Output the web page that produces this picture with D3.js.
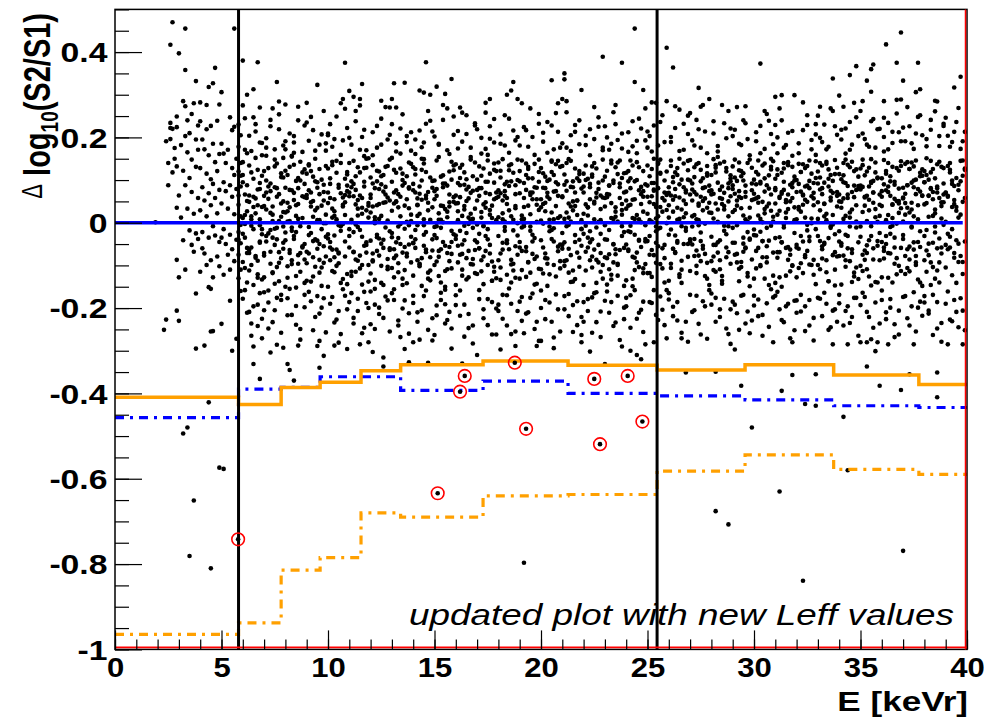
<!DOCTYPE html>
<html>
<head>
<meta charset="utf-8">
<script src="https://cdn.jsdelivr.net/npm/d3@7"></script>
<style>
  html, body { margin: 0; padding: 0; background: #fff; }
  svg { display: block; }
  text { font-family: "Liberation Sans", Arial, Helvetica, sans-serif; }
</style>
</head>
<body>
<svg id="chart" width="984" height="719"></svg>
<script>
// ---------- values ----------
const binEdges     = [0, 5.8, 7.8, 9.63, 11.55, 13.41, 17.28, 21.27, 25.45, 29.58, 33.74, 37.74, 40];
const upperSolid   = [-0.409, -0.426, -0.386, -0.374, -0.347, -0.333, -0.324, -0.334, -0.345, -0.333, -0.357, -0.379];
const blueDashDot  = [-0.457, -0.390, -0.386, -0.361, -0.361, -0.393, -0.371, -0.400, -0.406, -0.415, -0.429, -0.433];
const lowerDashDot = [-0.965, -0.938, -0.814, -0.785, -0.680, -0.690, -0.640, -0.637, -0.582, -0.544, -0.578, -0.590];
const thresholds   = [5.8, 25.45];
const zeroLine     = [0, 39.8];
const circled      = [[5.78, -0.742], [15.15, -0.634], [16.2, -0.396], [16.42, -0.359], [18.77, -0.328],
                      [19.3, -0.483], [22.5, -0.366], [22.77, -0.519], [24.07, -0.359], [24.76, -0.466]];
const xTickValues  = [0, 5, 10, 15, 20, 25, 30, 35, 40];
const yTickValues  = [-1, -0.8, -0.6, -0.4, -0.2, 0, 0.2, 0.4];
const yTickLabels  = ["-1", "-0.8", "-0.6", "-0.4", "-0.2", "0", "0.2", "0.4"];
const xTitle = "E [keVr]";
const note   = "updated plot with new Leff values";

// scatter: one string per 1 keVr column, tokens "d±yyy" -> E = column + d/10, value = yyy/1000
const scatterCols = [
  "",
  "9+001",
  "7+470 6+417 9+249 6+234 6+196 6+222 7+220 9+224 4+191 9-087 9-206 4-227 3-251 8+150 7+118 9+132 5+088 9+035 8+175 5+140",
  "3+455 0+397 3+358 8+332 2+285 3+273 7+280 3+203 0-230 8-166 7-068 8-295 2-494 4-480 7-651 5-781 1+182 4+165 6+148 9+171 2+122 5+105 8+131 3+088 6+072 0+064 9+058 4+033 7+021 1+012 5-018 8-025 2-041 6-052 9-038 3-110 0-128 4+240 6+255 9+228 5+210 8+195",
  "4+318 6+327 7+363 0+282 3+276 9+277 0+238 3+219 5+227 8+239 5-155 5-255 1-060 4-151 3-099 6-254 2-288 4-421 9-574 5-810 1+195 2+172 4+158 6+185 7+142 9+161 0+128 3+115 5+102 8+121 1+083 4+069 6+091 9+077 2+052 5+041 7+058 0+029 3+015 8+022 6-008 1-022 4-035 7-030 9-045 2-072 5-088 8-079 0-115 6-128 9-102",
  "0+306 4+247 6+225 5+217 0-237 4-183 7-272 5-300 1-577 6+455 0+185 1+162 2+140 3+171 5+128 6+112 7+150 1+095 2+074 4+088 5+061 7+079 0+045 3+033 6+020 1-015 4-028 7-040 2-050 5-062 0-035 3-075 6-090 1-122 4-110 8+120 9+085 8+042 9+015 8-022 9-048 8-075 9-110 8+178 9-160 8+230 9-005 8+064 9+140 9+205 8-130 9+110 8-040",
  "0+380 7+376 5+313 8+270 5-290 5-331 8-366 0+142 1-035 2+088 3-112 4+015 5+061 6-078 7+124 8-006 9+037 0-092 1+171 2-140 3+049 4-058 5+103 6+022 7-121 8+079 9-027 0+011 1+066 2-071 3+134 4-099 5-015 6+152 7+041 8-047 9-133 0+095 1-003 2+027 3-064 4+118 5-146 6+057 7-089 8+008 9+110 3+204 6+231 9+187 1+245 4+168 0-178 2-211 5-196 7-242 9-225 8-165 2+300 4-265",
  "7+284 9-293 0+063 1-044 2+128 3-096 4+019 5+083 6-012 7-137 8+045 9+106 0-071 1+157 2-025 3+074 4-118 5-052 6+139 7+004 8-083 9-009 0+121 1+031 2-159 3+092 4-035 5+148 6-104 7+067 8+014 9-061 0-128 1+099 2+056 3-017 4+038 5-143 6+081 7-069 8+116 9+025 1+198 3+226 5+172 7+254 9+181 0-205 2-187 4-233 6-176 8-258 3-304 6+330",
  "0+277 1-331 2-345 4-370 0-041 1+112 2+036 3-088 4+070 5-125 6+009 7+143 8-058 9+091 0+024 1-102 2+131 3-019 4+053 5+098 6-076 7-008 8+118 9-141 0+082 1+047 2-064 3+155 4-031 5+016 6+105 7-115 8+062 9-050 0-150 1+003 2+077 3-097 4+136 5-022 6+044 7-071 8+011 9+125 2+209 4+188 6+240 8+166 0+172 1-177 3-216 5-195 7-249 9-169 6-288",
  "5+323 6-340 6-277 0+058 1-072 2+121 3+014 4-039 5+095 6-117 7+040 8-001 9+133 0-095 1+076 2-024 3+108 4+029 5-061 6+067 7-148 8+089 9-033 0+115 1-010 2+048 3-126 4+150 5+006 6-087 7+101 8-055 9+019 0-136 1+137 2+071 3-043 4-103 5+035 6+126 7-015 8+052 9-079 1+192 3+217 6+183 8+262 0+235 2-184 4-221 7-199 9-257 5-172 8-312",
  "8+375 7+290 6+280 9-296 0-027 1+104 2+033 3-081 4+145 5-006 6+069 7-132 8+018 9+087 0+127 1-058 2-113 3+055 4+008 5-095 6+140 7+038 8-044 9+074 0-150 1+091 2+012 3-030 4+117 5-072 6-019 7+059 8+103 9-120 0+046 1-088 2+135 3+027 4-063 5+082 6-141 7-003 8+048 9+119 0+205 2+178 4+249 7+193 9+222 1-190 3-234 5-207 8-171 6-261 3-288",
  "0+309 2+295 5+290 5+275 6+325 5-285 9-280 0-015 1+097 2-068 3+043 4+130 5-107 6+021 7+085 8-046 9+012 0+140 1-125 2+062 3-004 4-089 5+118 6+035 7-054 8+150 9-138 0+071 1+002 2-022 3+109 4+053 5-077 6-145 7+128 8+029 9-099 0-058 1+083 2+145 3-115 4+017 5+064 6-033 7+096 8-070 9+040 1+183 3+238 6+201 8+170 0-186 2-223 4-178 7-246 9-200",
  "6-316 6-337 9+270 0+066 1-091 2+013 3+122 4-037 5+090 6-146 7+048 8+005 9-060 0-119 1+135 2+081 3-028 4+044 5-101 6+112 7-011 8+059 9+148 0+024 1-072 2-134 3+097 4+009 5-049 6+073 7+131 8-085 9-020 0+106 1+038 2-155 3-066 4+120 5+016 6-040 7+084 8-109 9+052 1+212 3+176 5+244 8+195 2-192 4-214 7-173 9-255 0-238 5+286 1-303",
  "0+290 1+327 2+270 6+328 8-327 0+028 1-083 2+117 3-009 4+061 5-131 6+093 7+002 8-051 9+138 0-106 1+045 2+076 3-036 4+127 5-070 6-014 7+109 8+034 9-093 0+152 1-128 2-046 3+067 4+015 5+100 6-057 7-142 8+080 9+019 0-024 1+124 2+050 3-116 4-003 5+087 6+040 7-079 8+141 9-033 2+186 4+221 7+203 9+169 1-181 3-229 5-201 8-260 0-165 6-296",
  "3+310 5+305 8+300 6+376 0-280 7-328 0+091 1-017 2+057 3-102 4+124 5+008 6-069 7+072 8-135 9+036 0-047 1+113 2-088 3+021 4+150 5-028 6+064 7-117 8+003 9+098 0+130 1-059 2+042 3+085 4-148 5-006 6+119 7+029 8-081 9-039 0-124 1+071 2+016 3-096 4+054 5+139 6-022 7+047 8+106 9-065 1+195 4+177 6+232 9+214 0-188 2-210 5-172 7-251 9-224 3-274",
  "1+319 5+302 8+337 0-010 1+079 2-125 3+040 4+111 5-054 6+026 7-090 8+143 9+060 0+099 1-036 2+007 3-140 4+083 5+032 6-071 7+120 8-019 9+049 0-099 1+146 2+022 3-062 4+092 5-113 6+013 7+066 8-045 9+134 0+055 1-008 2-080 3+108 4+001 5-150 6+087 7+038 8-107 9-027 2+183 4+241 6+170 9+206 1-194 3-181 5-236 7-209 0-263 8-295 6+268",
  "2+270 0+045 1-093 2+129 3+016 4-041 5+102 6-128 7+070 8+009 9-064 0+137 1+027 2-019 3-110 4+089 5+051 6-003 7+148 8-085 9+033 0-146 1+093 2+060 3-051 4+118 5-024 6+012 7-097 8+075 9+141 0-030 1+006 2+105 3-073 4+039 5-133 6+084 7+021 8-012 9-118 1+215 3+190 5+252 7+176 9+228 0-170 2-218 4-192 6-247 8-283 3-330",
  "6+290 0+077 1-026 2+110 3-079 4+035 5+146 6-052 7+011 8+094 9-130 0-004 1+063 2-114 3+127 4+048 5-039 6+019 7-091 8+139 9+058 0+101 1-060 2+025 3-144 4+070 5-015 6+115 7+040 8-103 9+006 0-120 1+132 2+081 3-008 4-066 5+096 6+030 7-136 8+055 9+121 2+199 4+173 6+226 8+188 1-179 3-203 5-240 7-186 9-262 0-310 4+258",
  "4+300 6+310 7+330 9+290 1-297 8-289 0+013 1+106 2-047 3+074 4-122 5+029 6+137 7-018 8+088 9-075 0+141 1-105 2+052 3+003 4+096 5-062 6-140 7+117 8+034 9-030 0-088 1+069 2+149 3-010 4+044 5+123 6-098 7+007 8-055 9+100 0+061 1-134 2+022 3+090 4-041 5+134 6+015 7-112 8+067 9-001 1+207 3+181 5+244 8+193 0-192 2-225 4-170 6-261 9-207",
  "1+280 8-289 9-277 2-797 0+097 1-011 2+058 3-127 4+131 5+020 6-073 7+083 8+042 9-108 0-045 1+146 2+009 3+112 4-092 5+065 6-028 7+138 8-143 9+030 0+121 1-066 2-004 3+077 4+040 5-117 6+104 7-036 8+055 9+148 0-131 1+017 2+093 3-057 4+126 5-009 6+071 7-085 8+002 9+119 2+224 4+178 6+201 9+255 0-185 3-213 5-176 7-249 1-230",
  "5+334 6-294 8+280 0-277 0+036 1+116 2-083 3+061 4-020 5+143 6+008 7-126 8+090 9-051 0+128 1-002 2+047 3-096 4+101 5-038 6+073 7+137 8-067 9+015 0-109 1+082 2+027 3-148 4+056 5+119 6-013 7+039 8+145 9-090 0+005 1-058 2+108 3+070 4-121 5+024 6-044 7+095 8+011 9+131 1+190 3+236 6+172 8+213 0-200 2-181 5-232 7-168 9-255",
  "1+350 1+336 0+290 2+285 9+311 9-280 0-061 1+089 2+024 3-117 4+145 5+050 6-029 7+104 8-082 9+006 0+133 1-046 2+075 3+012 4-139 5+097 6+039 7-070 8+121 9-015 0+060 1-101 2+140 3-005 4+084 5+029 6-132 7+052 8+098 9-054 0-024 1+113 2-088 3+045 4+003 5-112 6+127 7+018 8-040 9+080 2+176 4+205 6+229 8+184 1-172 3-219 5-193 7-240 9-263",
  "9+389 0+021 1-068 2+103 3+055 4-105 5+140 6-011 7+079 8+032 9-131 0+115 1+043 2-035 3+091 4-079 5+008 6+127 7-052 8+064 9-099 0-146 1+100 2+017 3-020 4+132 5-063 6+070 7+002 8-115 9+148 0+085 1-007 2+036 3-088 4+113 5+049 6-141 7+094 8-026 9+059 1+182 3+219 5+196 7+247 9+170 0-186 2-207 4-175 6-233 8-268 3-302",
  "5+276 8+375 0-331 8-290 0+108 1-040 2+066 3+139 4-093 5+014 6-124 7+083 8+030 9-059 0-006 1+122 2-109 3+046 4+099 5-074 6+003 7+146 8-031 9+071 0+038 1-145 2+087 3+011 4-050 5+130 6-096 7+058 8+019 9+116 0-081 1+060 2-017 3-133 4+093 5+026 6+141 7-064 8+105 9-022 1+200 3+185 5+231 8+174 0-183 2-211 4-242 6-171 9-226",
  "4+455 4+330 8+311 2-300 5-310 7-320 9-285 0+052 1+097 2-022 3+134 4-111 5+018 6+076 7-057 8+121 9-006 0-135 1+040 2+104 3-080 4+009 5+142 6-042 7+067 8+026 9-097 0+117 1-020 2+081 3-149 4+055 5-070 6+130 7+001 8-118 9+090 0+033 1-063 2+146 3+011 4-028 5+100 6-104 7+044 8+074 9-038 1+212 3+179 6+244 9+193 0-196 2-170 5-225 7-204 8-256",
  "2+282 9+410 9+285 3-280 0+087 1-031 2+126 3+044 4-094 5+015 6+148 7-060 8+071 9+030 0-118 1+109 2+003 3+093 4-047 5+138 6-012 7+058 8-140 9+120 0+021 1-075 2+062 3+150 4-020 5+081 6+037 7-107 8+099 9-001 0+134 1+048 2-127 3+075 4+010 5-055 6+117 7+026 8-083 9+065 1+203 3+228 5+181 7+252 0+176 2-188 4-216 6-173 8-240",
  "2+364 9-279 8-351 0+012 1+133 2-061 3+079 4+035 5-121 6+101 7+052 8-019 9+145 0+070 1-096 2+026 3+118 4-043 5+090 6-008 7+139 8+044 9-080 0-136 1+064 2+107 3-030 4+007 5+150 6-110 7+083 8+022 9+123 0+041 1-016 2+095 3-069 4+128 5+059 6-141 7+013 8+076 9-050 1+189 3+222 5+265 7+171 9+208 0-180 2-197 4-229 6-258",
  "4+316 5+272 0-044 1+092 2+018 3+137 4-077 5+061 6+029 7-125 8+110 9+047 0+147 1-009 2+072 3-101 4+006 5+124 6-054 7+083 8+035 9-146 0+099 1+015 2-038 3+066 4+140 5-090 6+051 7-002 8+116 9+024 0-113 1+078 2+130 3-065 4+040 5-023 6+104 7+057 8-131 9+087 1+193 3+241 5+176 7+214 9+290 0-169 2-205 4-237 6-184 8-272",
  "2-349 9-284 2-676 8-707 0+066 1-052 2+118 3+031 4-109 5+085 6+143 7-027 8+050 9+104 0-090 1+010 2+135 3-070 4+077 5-143 6+039 7+120 8-008 9+062 0+023 1+149 2-115 3+094 4-041 5+056 6-019 7+128 8+081 9-096 0+112 1-079 2+045 3+002 4+139 5-125 6+070 7-058 8+015 9+097 1+209 3+180 6+233 8+262 0-192 2-176 4-221 7-248 9-203",
  "6+273 1-297 4-382 9-480 0+025 1+106 2-073 3+141 4+058 5-035 6+087 7-118 8+012 9+129 0-012 1+068 2+098 3-137 4+034 5+116 6-060 7+003 8+148 9-086 0+079 1-047 2+040 3+123 4-104 5+017 6+061 7-022 8-149 9+092 0+132 1+030 2-093 3+074 4+109 5-068 6+008 7+140 8-040 9+053 1+218 3+185 5+240 7+196 0-185 2-212 4-171 6-236 8-259",
  "3+373 9-280 0-016 1+090 2+047 3-099 4+134 5+022 6-055 7+111 8+066 9-124 0+101 1-030 2+146 3+009 4-081 5+073 6+038 7-146 8+125 9+003 0+055 1-107 2+017 3+092 4-043 5+139 6-012 7+080 8+028 9-070 0-131 1+119 2+060 3-021 4+001 5+104 6-093 7+045 8+150 9+014 1+191 3+227 5+173 6+255 8+208 0-194 2-180 4-216 7-244 9-175",
  "3+299 0+295 9+299 3-394 8-357 8-280 2-630 0+076 1-069 2+028 3+117 4-005 5+053 6+142 7-114 8+083 9+036 0-141 1+125 2+061 3-046 4+096 5+011 6-087 7+050 8+131 9-024 0+103 1+019 2-128 3+068 4+140 5-059 6+032 7+089 8-100 9+006 0+045 1+112 2-034 3-150 4+077 5+024 6+135 7-075 8+058 9+099 1+200 3+240 5+182 8+215 0-171 2-203 4-233 6-190 9-252",
  "4-425 9-429 9-355 3-839 0+100 1+037 2-095 3+064 4+128 5-018 6+081 7+010 8-122 9+144 0-058 1+091 2+026 3+137 4-081 5+049 6-033 7+115 8+070 9-144 0+008 1-106 2+119 3+042 4+085 5-066 6+146 7-001 8+057 9+105 0-128 1+031 2+073 3-044 4+012 5+133 6-098 7+062 8+093 9-015 1+186 3+217 5+252 7+172 9+231 0-182 2-208 4-196 6-241 8-276",
  "1+272 7+338 7-285 0+048 1-043 2+134 3+015 4-116 5+085 6+059 7-004 8+147 9-079 0+120 1+029 2-062 3+094 4+006 5-137 6+112 7+070 8-027 9+038 0-099 1+140 2+081 3-050 4+021 5+125 6-012 7+098 8-147 9+063 0+009 1+106 2-084 3+044 4+143 5-036 6+075 7+018 8-110 9+129 1+199 3+230 5+178 7+262 9+206 0-176 2-219 4-190 6-245 8-203",
  "5+346 8+367 0+298 2+272 4-285 2-455 4-580 0-020 1+102 2+057 3-103 4+136 5+024 6-071 7+087 8+041 9-132 0+114 1-048 2+009 3+148 4+066 5-090 6+031 7+121 8-011 9+079 0+050 1-145 2+095 3+016 4-060 5+130 6+072 7-117 8+003 9+108 0-078 1+035 2+140 3-028 4+086 5+012 6-139 7+060 8+125 9-046 1+195 3+221 6+183 8+247 0-189 3-207 5-235 7-176 9-265",
  "6+371 5+360 3+333 5+307 1+285 0-280 3-280 8-280 7-301 3-337 9-382 0+078 1+025 2-087 3+120 4+054 5-031 6+098 7+013 8-140 9+066 0-009 1+135 2+040 3-109 4+085 5+149 6-060 7+032 8+106 9-024 0+127 1-075 2+061 3+004 4-126 5+093 6+047 7+141 8-043 9+016 0-101 1+084 2+111 3-053 4+029 5-147 6+071 7+118 8+002 9-088 1+209 3+183 5+238 7+176 9+220 0-193 2-174 4-221 6-246",
  "9+446 2+418 7+375 1+285 9+289 3-285 9-392 0+039 1-058 2+115 3+072 4-010 5+131 6-096 7+051 8+023 9+144 0-128 1+090 2+006 3-071 4+109 5+043 6-035 7+128 8+080 9-113 0+061 1+147 2-050 3+018 4+097 5-140 6+056 7-002 8+122 9+034 0+104 1-084 2+076 3+140 4-026 5+011 6+089 7-121 8+045 9-059 1+201 3+234 5+187 7+256 8+212 0-181 2-210 4-199 6-238 8-262",
  "7+375 0+333 6+306 8+313 5-285 3-355 0-769 0+082 1+019 2-106 3+126 4+047 5-063 6+101 7+008 8-140 9+063 0-029 1+138 2+035 3-086 4+094 5+015 6+146 7-045 8+073 9+110 0+057 1-120 2+088 3+024 4-011 5+132 6-078 7+041 8+117 9-148 0+003 1+068 2+142 3-056 4+031 5+099 6-099 7+079 8-020 9+125 1+191 3+226 5+173 7+248 9+205 0-174 2-224 4-196 6-255 8-185",
  "6+284 6-351 6-409 0+043 1+112 2-049 3+079 4+016 5-131 6+137 7+058 8-072 9+092 0+121 1-017 2+064 3+145 4-104 5+031 6+085 7-037 8+010 9+128 0-088 1+046 2+101 3-146 4+072 5+022 6-060 7+143 8+039 9-005 0+095 1-115 2+014 3+118 4+055 5-023 6+081 7-093 8+131 9+048 1+196 3+218 5+261 7+180 9+232 0-187 2-213 4-169 6-248 8-279",
  "7+342 4+317 1-285 8-285 0+070 1-026 2+124 3+037 4-082 5+105 6+012 7+145 8-120 9+058 0+002 1+133 2-058 3+091 4+044 5-141 6+076 7+019 8+110 9-044 0-105 1+061 2+140 3-015 4+086 5+028 6-092 7+097 8+049 9+127 1+204 3+189 5+236 7+173 9+213 0-190 2-227 4-181 6-245 8-206"
];

// extra points in the crowded middle of the band, same column layout
const innerCols = [
  "", "", "", "", "", "",
  "1+018 3+064 5+037 8+093 0+112 4+008 7+078 9+158 2+051 0-026 2-059 4-007 6-082 8-044 1-106 3-071 7-129 9-015",
  "0+039 2+085 4+004 6+061 8+107 1+071 3+023 5+132 9+050 1-031 3-068 5-014 7-094 9-047 0-077 4-116 6-039 8-169",
  "1+027 3+076 5+041 7+099 9+060 0+122 2+004 4+164 6+081 0-023 2-071 4-038 6-096 8-055 1-129 3-011 5-152 9-086",
  "0+065 2+038 4+097 6+006 8+072 1+134 3+051 5+082 9+169 1-029 3-081 5-042 7-105 9-001 0-068 2-138 6-050 8-094",
  "1+058 3+016 5+089 7+042 9+113 0+071 2+143 4+003 8+065 0-037 2-063 4-101 6-008 8-079 1-045 3-116 5-070 9-144",
  "0+062 2+091 4+033 6+058 8+129 1+007 3+077 7+156 9+046 0-031 2-069 4-010 6-099 8-052 1-115 3-086 5-017 7-162",
  "0+058 2+005 4+079 6+047 8+133 1+092 3+041 5+109 7+066 0-042 2-001 4-077 6-059 8-103 1-088 3-034 5-141 9-064",
  "1+071 3+036 5+115 7+055 9+004 0+096 2+049 4+162 8+083 0-034 2-077 4-050 6-111 8-006 1-062 3-095 5-146 7-072",
  "0+076 2+041 4+099 6+057 8+007 1+126 3+068 5+149 9+082 0-048 2-006 4-083 6-063 8-112 1-039 3-098 5-054 7-131",
  "1+063 3+007 5+092 7+048 9+123 0+074 2+154 4+039 8+101 0-029 2-066 4-045 6-109 8-073 1-091 3-012 5-157 7-057",
  "0+064 2+088 4+031 6+057 8+109 1+046 3+136 5+078 7+005 0-038 2-075 4-007 6-066 8-098 1-054 3-124 5-083 9-041",
  "0+052 2+012 4+096 6+067 8+124 1+081 3+043 5+159 9+071 0-046 2-088 4-031 6-072 8-115 1-060 3-007 5-099 7-136",
  "0+076 2+008 4+058 6+097 8+039 1+122 3+063 5+086 9+148 0-031 2-063 4-048 6-087 8-129 1-072 3-019 5-154 7-096",
  "0+069 2+037 4+104 6+055 8+082 1+008 3+139 5+071 9+096 0-058 2-008 4-093 6-044 8-079 1-111 3-067 5-019 7-145",
  "0+055 2+081 4+007 6+112 8+063 1+044 3+098 5+146 7+074 0-041 2-072 4-009 6-099 8-056 1-119 3-084 5-017 9-107",
  "0+062 2+097 4+038 6+071 8+114 1+009 3+149 5+083 7+052 0-052 2-008 4-076 6-045 8-103 1-090 3-061 5-138 9-014",
  "0+071 2+036 4+108 6+059 8+006 1+134 3+083 5+045 9+099 0-026 2-058 4-039 6-087 8-071 1-112 3-046 5-165 7-093",
  "0+058 2+087 4+009 6+114 8+044 1+067 3+146 5+036 7+092 0-039 2-074 4-051 6-099 8-008 1-083 3-122 5-062 9-148",
  "0+073 2+042 4+097 6+008 8+061 1+121 3+054 5+163 7+084 0-051 2-007 4-082 6-040 8-107 1-066 3-131 5-093 9-044",
  "0+061 2+093 4+037 6+115 8+052 1+006 3+078 5+140 9+069 0-043 2-064 4-009 6-097 8-052 1-118 3-076 5-014 9-158",
  "0+083 2+054 4+112 6+031 8+071 1+146 3+062 5+009 9+101 0-028 2-061 4-047 6-089 8-012 1-106 3-071 5-127 7-050",
  "0+066 2+107 4+045 6+081 8+133 1+052 3+008 5+097 9+074 0-039 2-078 4-006 6-061 8-094 1-051 3-118 5-043 7-073",
  "0+076 2+129 4+058 6+031 8+092 1+068 3+154 5+044 9+111 0-033 2-052 4-088 6-007 8-069 1-111 3-046 5-136 7-081",
  "0+088 2+052 4+121 6+072 8+035 1+148 3+061 5+099 9+076 0-047 2-006 4-092 6-058 8-037 1-075 3-108 5-049 7-126",
  "0+068 2+113 4+049 6+088 8+131 1+057 3+096 5+032 9+144 0-029 2-059 4-043 6-081 8-007 1-066 3-102 5-131 7-042",
  "0+081 2+058 4+127 6+066 8+093 1+163 3+072 5+048 9+108 0-036 2-069 4-011 6-057 8-101 1-082 3-046 5-124 7-063",
  "0+072 2+119 4+054 6+098 8+041 1+138 3+066 5+087 9+159 0-052 2-031 4-076 6-043 8-087 1-061 3-118 5-005 7-099",
  "0+092 2+067 4+138 6+052 8+114 1+078 3+045 5+103 9+072 0-031 2-055 4-088 6-008 8-069 1-109 3-047 5-137 7-076",
  "0+066 2+111 4+058 6+143 8+077 1+049 3+093 5+171 9+086 0-044 2-077 4-031 6-062 8-105 1-054 3-088 5-009 7-126",
  "0+087 2+059 4+129 6+071 8+104 1+148 3+063 5+096 9+042 0-033 2-065 4-041 6-086 8-054 1-113 3-071 5-008 7-139",
  "0+074 2+121 4+063 6+096 8+051 1+167 3+085 5+042 9+133 0-045 2-031 4-072 6-058 8-101 1-066 3-129 5-007 7-083",
  "0+059 2+088 4+141 6+067 8+109 1+046 3+126 5+083 9+064 0-038 2-062 4-009 6-093 8-057 1-078 3-114 5-046 7-133",
  "0+095 2+063 4+126 6+071 8+048 1+151 3+081 5+104 9+066 0-031 2-076 4-047 6-112 8-058 1-065 3-093 5-009 7-140",
  "0+071 2+118 4+053 6+089 8+146 1+063 3+099 5+037 9+124 0-052 2-033 4-071 6-049 8-092 1-062 3-123 5-041 7-078"
];

// extra points on the flanks of the band (|value| ~ 0.15-0.29), same column layout
const outerCols = [
  "", "", "", "", "", "",
  "2+163 5+247 8+188 0+275 6+214 1-158 4-236 7-192 9-271 3-209",
  "1+176 4+268 7+219 9+152 3+241 0-163 2-248 5-205 8-181 6-286",
  "0+191 3+157 6+272 9+228 4+203 2-155 5-239 7-274 9-198 1-217",
  "2+248 4+169 7+207 9+186 0+281 1-162 3-252 6-213 8-177 5-289",
  "1+231 3+196 6+159 8+267 0+209 2-174 4-227 7-156 9-203 5-281",
  "0+199 3+262 5+171 7+218 9+151 1-165 4-207 6-259 8-188 2-236",
  "1+158 3+227 5+183 7+271 9+206 0-161 2-249 4-199 6-223 8-182",
  "0+231 2+167 5+254 7+189 9+212 1-156 3-241 6-182 8-212 4-268",
  "1+161 3+216 5+188 7+262 8+239 0-171 2-232 4-205 6-159 9-276",
  "0+202 2+185 4+276 7+161 9+249 1-217 3-164 5-191 8-248 6-228",
  "1+174 3+258 5+208 7+154 9+233 0-193 2-159 4-267 6-214 8-241",
  "0+219 2+162 4+281 6+197 8+243 1-158 3-224 5-179 7-262 9-201",
  "1+185 3+252 5+164 7+216 9+201 0-207 2-169 4-241 6-190 8-255",
  "0+181 3+217 5+268 7+159 9+232 1-174 2-259 4-210 6-166 8-232",
  "1+211 3+164 5+228 7+257 9+176 0-159 2-226 4-187 6-269 8-203",
  "0+186 2+259 4+168 6+213 8+240 1-203 3-167 5-256 7-184 9-221",
  "1+204 3+158 5+271 7+225 9+176 0-232 2-179 4-258 6-163 8-208",
  "0+226 2+171 4+259 6+194 8+209 1-161 3-186 5-234 7-275 9-199",
  "1+166 3+238 5+192 7+221 9+268 0-176 2-246 4-158 6-211 8-185",
  "0+214 2+167 4+281 6+236 8+189 1-186 3-158 5-228 7-204 9-271",
  "1+201 3+273 5+168 7+232 9+251 0-165 2-219 4-186 6-271 8-232",
  "0+257 2+181 4+219 6+276 8+163 1-209 3-171 5-262 7-196 9-158",
  "1+238 3+167 5+276 7+198 9+221 0-166 2-232 4-203 6-178 8-261",
  "0+203 2+271 4+182 6+233 8+158 1-192 3-251 5-169 7-208 9-229",
  "1+212 3+163 5+262 7+239 9+184 0-171 2-219 4-265 6-189 8-156",
  "0+229 2+268 4+176 6+211 8+157 1-162 3-228 5-196 7-271 9-183",
  "1+163 3+282 5+229 7+194 9+207 0-211 2-169 4-254 6-181 8-223",
  "0+251 2+189 4+172 6+268 8+226 1-178 3-164 5-251 7-206 9-232",
  "1+218 3+162 5+236 7+281 9+203 0-169 2-241 4-196 6-221 8-176",
  "0+262 2+196 4+178 6+243 8+219 1-164 3-209 5-273 7-187 9-236",
  "1+246 3+172 5+213 7+288 9+191 0-159 2-226 4-179 6-268 8-206",
  "0+223 2+271 4+186 6+209 8+252 1-172 3-241 5-163 7-199 9-218",
  "1+179 3+241 5+286 7+203 9+227 0-172 2-206 4-263 6-186 8-235",
  "0+246 2+178 4+213 6+269 8+191 1-161 3-231 5-209 7-177 9-252"
];

// ---------- build ----------
const scatter = [];
[scatterCols, innerCols, outerCols].forEach(cols => {
  cols.forEach((s, col) => {
    if (!s) return;
    s.trim().split(/\s+/).forEach(tok => {
      scatter.push({ e: col + (+tok[0]) / 10, d: +tok.slice(1) / 1000 });
    });
  });
});

const W = 984, H = 719;
const plot = { left: 115, right: 967, top: 9.4, bottom: 649.4 };

const x = d3.scaleLinear().domain([0, 40]).range([plot.left, plot.right]);
const y = d3.scaleLinear().domain([-1, 0.5]).range([plot.bottom, plot.top]);

const svg = d3.select('#chart');
svg.append('rect').attr('width', W).attr('height', H).attr('fill', '#fff');

svg.append('clipPath').attr('id', 'clip')
  .append('rect')
  .attr('x', plot.left).attr('y', plot.top)
  .attr('width', plot.right - plot.left).attr('height', plot.bottom - plot.top);

const g = svg.append('g').attr('clip-path', 'url(#clip)');

// scatter points
g.append('g')
  .selectAll('circle')
  .data(scatter)
  .join('circle')
    .attr('cx', d => x(d.e))
    .attr('cy', d => y(d.d))
    .attr('r', 2.3)
    .attr('fill', '#000');

// zero reference
g.append('line')
  .attr('x1', x(zeroLine[0])).attr('x2', x(zeroLine[1]))
  .attr('y1', y(0)).attr('y2', y(0))
  .attr('stroke', '#0000ff').attr('stroke-width', 3.5);

// step curves
const stepPts = vals => vals.map((v, i) => [binEdges[i], v])
  .concat([[binEdges[binEdges.length - 1], vals[vals.length - 1]]]);
const step = d3.line().x(d => x(d[0])).y(d => y(d[1])).curve(d3.curveStepAfter);

g.append('path').datum(stepPts(lowerDashDot))
  .attr('d', step).attr('fill', 'none')
  .attr('stroke', '#ffa000').attr('stroke-width', 3.2)
  .attr('stroke-dasharray', '9,6,3,6');

g.append('path').datum(stepPts(blueDashDot))
  .attr('d', step).attr('fill', 'none')
  .attr('stroke', '#0000ff').attr('stroke-width', 3.2)
  .attr('stroke-dasharray', '9,6,3,6');

g.append('path').datum(stepPts(upperSolid))
  .attr('d', step).attr('fill', 'none')
  .attr('stroke', '#ffa000').attr('stroke-width', 3.5);

// threshold lines
g.selectAll('line.thr')
  .data(thresholds)
  .join('line')
    .attr('class', 'thr')
    .attr('x1', d => x(d)).attr('x2', d => x(d))
    .attr('y1', plot.top).attr('y2', plot.bottom)
    .attr('stroke', '#000').attr('stroke-width', 3);

// circled events
const ev = g.append('g');
ev.selectAll('circle.dot')
  .data(circled)
  .join('circle')
    .attr('class', 'dot')
    .attr('cx', d => x(d[0])).attr('cy', d => y(d[1]))
    .attr('r', 2.3).attr('fill', '#000');
ev.selectAll('circle.ring')
  .data(circled)
  .join('circle')
    .attr('class', 'ring')
    .attr('cx', d => x(d[0])).attr('cy', d => y(d[1]))
    .attr('r', 6.3).attr('fill', 'none')
    .attr('stroke', '#ff0000').attr('stroke-width', 1.6);

// frame + red edges
svg.append('rect')
  .attr('x', plot.left).attr('y', plot.top)
  .attr('width', plot.right - plot.left).attr('height', plot.bottom - plot.top)
  .attr('fill', 'none').attr('stroke', '#000').attr('stroke-width', 1.5);
svg.append('line')
  .attr('x1', plot.left).attr('x2', plot.right)
  .attr('y1', plot.bottom - 2).attr('y2', plot.bottom - 2)
  .attr('stroke', '#ff0000').attr('stroke-width', 1.8);
svg.append('line')
  .attr('x1', plot.right - 1.5).attr('x2', plot.right - 1.5)
  .attr('y1', plot.top).attr('y2', plot.bottom)
  .attr('stroke', '#ff0000').attr('stroke-width', 1.5);

// ---------- axes ----------
// x minor
svg.append('g')
  .attr('transform', `translate(0,${plot.bottom})`)
  .call(d3.axisBottom(x).tickValues(d3.range(0, 41, 1)).tickSize(-10).tickFormat(''))
  .call(a => a.select('.domain').remove())
  .selectAll('line').attr('stroke', '#000').attr('stroke-width', 1.2);

// x major
const gx = svg.append('g')
  .attr('transform', `translate(0,${plot.bottom})`)
  .call(d3.axisBottom(x).tickValues(xTickValues).tickSize(-19).tickPadding(8.5).tickFormat(d3.format('d')))
  .call(a => a.select('.domain').remove());
gx.selectAll('line').attr('stroke', '#000').attr('stroke-width', 1.2);
gx.selectAll('text')
  .attr('font-family', '"Liberation Sans", Arial, sans-serif')
  .attr('font-size', 27).attr('font-weight', 'bold').attr('fill', '#000')
  .attr('transform', 'scale(1.15,1)');

// y minor
svg.append('g')
  .attr('transform', `translate(${plot.left},0)`)
  .call(d3.axisLeft(y).tickValues(d3.range(-20, 11, 1).map(v => v * 0.05)).tickSize(-14).tickFormat(''))
  .call(a => a.select('.domain').remove())
  .selectAll('line').attr('stroke', '#000').attr('stroke-width', 1.2);

// y major
const gy = svg.append('g')
  .attr('transform', `translate(${plot.left},0)`)
  .call(d3.axisLeft(y).tickValues(yTickValues).tickSize(-27).tickPadding(6)
    .tickFormat((d, i) => yTickLabels[i]))
  .call(a => a.select('.domain').remove());
gy.selectAll('line').attr('stroke', '#000').attr('stroke-width', 1.2);
gy.selectAll('text')
  .attr('font-family', '"Liberation Sans", Arial, sans-serif')
  .attr('font-size', 27).attr('font-weight', 'bold').attr('fill', '#000')
  .attr('dy', '0.36em')
  .attr('transform', 'scale(1.25,1)');

// axis titles
svg.append('text')
  .attr('transform', `translate(968,711) scale(1.3,1)`)
  .attr('text-anchor', 'end')
  .attr('font-size', 27).attr('font-weight', 'bold')
  .text(xTitle);

const yt = svg.append('text')
  .attr('transform', 'translate(50,13) rotate(-90) scale(1,1.3)')
  .attr('text-anchor', 'end')
  .attr('font-size', 29).attr('font-weight', 'bold');
yt.append('tspan').attr('font-weight', 'normal').attr('font-size', 22).attr('dy', -6).text('\u0394');
yt.append('tspan').attr('dy', 6).text(' log');
yt.append('tspan').attr('font-size', 19).attr('dy', 6).text('10');
yt.append('tspan').attr('dy', -6).text('(S2/S1)');

// annotation
svg.append('text')
  .attr('x', 409).attr('y', 625)
  .attr('font-size', 29).attr('font-style', 'italic')
  .attr('textLength', 545).attr('lengthAdjust', 'spacingAndGlyphs')
  .text(note);
</script>
</body>
</html>
